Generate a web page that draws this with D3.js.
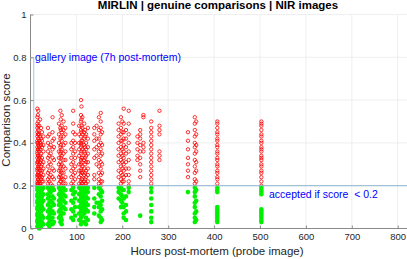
<!DOCTYPE html>
<html>
<head>
<meta charset="utf-8">
<script src="https://cdn.jsdelivr.net/npm/d3@7"></script>
<style>
html,body{margin:0;padding:0;background:#fff;}
svg{display:block;font-family:"Liberation Sans",Arial,Helvetica,sans-serif;}
</style>
</head>
<body>
<svg id="chart" width="407" height="259"></svg>
<script>
// ---- data ----
const title = "MIRLIN | genuine comparisons | NIR images";
const xLabel = "Hours post-mortem (probe image)";
const yLabel = "Comparison score";
const xTicks = [0,100,200,300,400,500,600,700,800];
const yTicks = [0,0.2,0.4,0.6,0.8,1];
const threshold = 0.2;
const galleryHour = 7;
const galleryLine = [0.1, 0.8];
const galleryText = "gallery image (7h post-mortem)";
const thresholdText = "accepted if score  < 0.2";

const hours = [15,16,17,19,21,23,25,28, 38,41,44,48,51, 62,65,66,68,72,76, 89,93,97,
  106,110,111,113,117,119,121,125, 139,144,149,153,156, 192,197,200,203,208,214,
  233,239,246, 263, 281, 343,358,361, 407, 503];

const scores = [
  [0.56,0.52,0.49,0.47,0.45,0.43,0.41,0.40,0.38,0.36,0.35,0.33,0.31,0.30,0.28,0.27,0.25,0.24,0.22,0.21,0.20,0.19,0.18,0.16,0.15,0.13,0.12,0.10,0.09,0.07,0.06,0.04,0.03,0.01],
  [0.53,0.48,0.44,0.40,0.37,0.34,0.31,0.28,0.25,0.23,0.21,0.18,0.15,0.12,0.09,0.06,0.03],
  [0.55,0.50,0.46,0.44,0.42,0.39,0.37,0.34,0.32,0.29,0.26,0.23,0.21,0.19,0.17,0.14,0.11,0.08,0.05,0.02],
  [0.48,0.44,0.41,0.38,0.36,0.33,0.30,0.28,0.25,0.22,0.20,0.19,0.16,0.13,0.10,0.07,0.04,0.02,0.00],
  [0.51,0.43,0.40,0.37,0.34,0.31,0.27,0.24,0.21,0.18,0.15,0.12,0.09,0.06,0.03],
  [0.47,0.42,0.39,0.35,0.32,0.29,0.26,0.23,0.20,0.19,0.17,0.14,0.11,0.08,0.05,0.01],
  [0.45,0.41,0.38,0.33,0.30,0.27,0.24,0.22,0.18,0.15,0.12,0.10,0.06,0.03],
  [0.43,0.39,0.36,0.31,0.28,0.25,0.22,0.19,0.16,0.13,0.09,0.05,0.02],
  [0.47,0.43,0.40,0.36,0.33,0.29,0.26,0.23,0.21,0.19,0.16,0.14,0.11,0.08,0.05,0.02],
  [0.44,0.38,0.34,0.31,0.27,0.24,0.22,0.18,0.15,0.12,0.09,0.06,0.03,0.01],
  [0.39,0.35,0.30,0.25,0.21,0.19,0.17,0.13,0.10,0.07,0.04],
  [0.52,0.45,0.41,0.37,0.33,0.28,0.24,0.20,0.19,0.15,0.12,0.08,0.05,0.02],
  [0.42,0.38,0.32,0.27,0.23,0.18,0.14,0.11,0.07,0.03],
  [0.49,0.44,0.40,0.36,0.33,0.30,0.27,0.24,0.21,0.19,0.16,0.13,0.11,0.08,0.05],
  [0.55,0.47,0.42,0.38,0.35,0.31,0.28,0.25,0.22,0.18,0.15,0.12,0.09,0.06,0.03],
  [0.51,0.46,0.43,0.39,0.36,0.33,0.29,0.27,0.24,0.22,0.17,0.14,0.11,0.08,0.05],
  [0.53,0.48,0.45,0.41,0.37,0.34,0.30,0.26,0.23,0.20,0.19,0.17,0.14,0.10,0.07,0.04,0.02],
  [0.50,0.46,0.43,0.39,0.35,0.32,0.29,0.26,0.23,0.21,0.19,0.16,0.13,0.10,0.07],
  [0.47,0.44,0.40,0.36,0.32,0.28,0.24,0.21,0.18,0.15,0.12,0.09],
  [0.40,0.37,0.33,0.30,0.27,0.24,0.21,0.18,0.13,0.09,0.05],
  [0.55,0.49,0.45,0.41,0.38,0.35,0.31,0.28,0.25,0.22,0.20,0.19,0.16,0.12,0.08,0.04],
  [0.44,0.40,0.36,0.33,0.29,0.26,0.23,0.17,0.14,0.10,0.06],
  [0.48,0.44,0.40,0.37,0.34,0.30,0.27,0.24,0.21,0.19,0.16,0.13,0.10,0.07,0.04],
  [0.60,0.53,0.50,0.46,0.43,0.40,0.38,0.35,0.32,0.30,0.27,0.25,0.22,0.20,0.19,0.17,0.14,0.11,0.08,0.05,0.02],
  [0.57,0.51,0.48,0.45,0.41,0.39,0.36,0.33,0.31,0.28,0.26,0.23,0.21,0.18,0.15,0.12,0.09,0.06,0.03],
  [0.52,0.47,0.44,0.41,0.37,0.33,0.29,0.26,0.23,0.21,0.18,0.15,0.12,0.09,0.06],
  [0.49,0.45,0.42,0.39,0.36,0.32,0.28,0.25,0.22,0.19,0.16,0.13,0.10,0.07,0.03],
  [0.46,0.43,0.38,0.35,0.33,0.30,0.26,0.23,0.21,0.17,0.14,0.11,0.08],
  [0.44,0.40,0.37,0.34,0.31,0.27,0.24,0.21,0.18,0.15,0.12,0.09,0.05,0.02],
  [0.47,0.42,0.38,0.35,0.31,0.28,0.25,0.22,0.19,0.17,0.14,0.11,0.08,0.04],
  [0.47,0.44,0.41,0.37,0.33,0.25,0.23,0.19,0.14,0.10,0.07],
  [0.48,0.42,0.38,0.34,0.30,0.12],
  [0.52,0.46,0.42,0.39,0.36,0.32,0.29,0.26,0.23,0.21,0.19,0.16,0.12,0.10,0.06],
  [0.54,0.50,0.47,0.44,0.40,0.37,0.34,0.31,0.28,0.25,0.22,0.20,0.18,0.15,0.11,0.08,0.05,0.03],
  [0.45,0.39,0.35,0.30,0.26,0.22,0.17,0.13,0.09,0.04],
  [0.49,0.46,0.43,0.40,0.37,0.34,0.31,0.27,0.24,0.19,0.17,0.14],
  [0.52,0.47,0.44,0.41,0.38,0.35,0.32,0.29,0.26,0.23,0.21,0.19,0.16,0.13,0.10],
  [0.50,0.45,0.41,0.37,0.34,0.31,0.28,0.25,0.22,0.18,0.15,0.12],
  [0.56,0.49,0.45,0.42,0.39,0.36,0.33,0.30,0.27,0.24,0.22,0.18,0.14,0.10,0.07,0.05],
  [0.46,0.42,0.38,0.35,0.31,0.28,0.25,0.15,0.11,0.08,0.04],
  [0.55,0.49,0.44,0.40,0.36,0.32,0.28,0.25,0.22,0.20,0.19,0.17],
  [0.43,0.40,0.37,0.34,0.32],
  [0.46,0.44,0.42,0.39,0.36,0.33,0.30,0.27,0.24,0.06],
  [0.53,0.52,0.40,0.38,0.36],
  [0.50,0.47,0.45,0.43,0.41,0.39,0.37,0.35,0.33,0.31,0.29,0.27,0.25,0.23,0.21,0.19,0.17,0.14,0.11,0.08,0.05,0.03],
  [0.55,0.48,0.46,0.44,0.36,0.34,0.32],
  [0.45,0.41,0.37,0.33,0.30,0.27,0.24,0.17],
  [0.52,0.49,0.46,0.43,0.40,0.38,0.35,0.32,0.29,0.26,0.23,0.21,0.19,0.17,0.15,0.12,0.10,0.07,0.05,0.03],
  [0.50,0.44,0.39,0.36,0.31,0.27,0.22,0.18,0.13,0.08,0.04],
  [0.50,0.49,0.47,0.45,0.44,0.42,0.41,0.39,0.38,0.36,0.35,0.33,0.32,0.30,0.29,0.27,0.26,0.24,0.23,0.21,0.19,0.18,0.17,0.10,0.09,0.08,0.07,0.06,0.05,0.04,0.03],
  [0.50,0.49,0.48,0.46,0.44,0.43,0.41,0.40,0.38,0.37,0.36,0.34,0.33,0.32,0.30,0.29,0.27,0.26,0.24,0.22,0.20,0.19,0.18,0.17,0.16,0.09,0.08,0.07,0.06,0.05,0.04,0.03]
];

// ---- chart ----
const W = 407, H = 259;
const svg = d3.select("#chart");
const x = d3.scaleLinear().domain([0, 800]).range([30.5, 397.7]);
const y = d3.scaleLinear().domain([0, 1]).range([228.5, 14.5]);
const xRight = W;

const points = [];
hours.forEach((h, i) => scores[i].forEach(s => points.push({h, s})));

// grid
const grid = svg.append("g");
grid.selectAll("line.gx").data(xTicks.slice(1)).join("line")
  .attr("x1", d => x(d)).attr("x2", d => x(d))
  .attr("y1", y(0)).attr("y2", y(1))
  .attr("stroke", "#ebebeb").attr("stroke-width", 0.8);
grid.selectAll("line.gy").data(yTicks.slice(1)).join("line")
  .attr("x1", x(0)).attr("x2", xRight)
  .attr("y1", d => y(d)).attr("y2", d => y(d))
  .attr("stroke", "#ebebeb").attr("stroke-width", 0.8);

// points: red (rejected) open circles, then green (accepted) filled
const red = points.filter(p => p.s >= threshold);
const green = points.filter(p => p.s < threshold);
svg.append("g").selectAll("circle").data(red).join("circle")
  .attr("cx", d => x(d.h)).attr("cy", d => y(d.s)).attr("r", 1.7)
  .attr("fill", "none").attr("stroke", "#ff0000").attr("stroke-width", 0.8);
svg.append("g").selectAll("circle").data(green).join("circle")
  .attr("cx", d => x(d.h)).attr("cy", d => y(d.s)).attr("r", 2.3)
  .attr("fill", "#00f000").attr("stroke", "none");

// reference lines
svg.append("line")
  .attr("x1", x(0)).attr("x2", xRight)
  .attr("y1", y(threshold)).attr("y2", y(threshold))
  .attr("stroke", "#8fb6cf").attr("stroke-width", 1);
svg.append("line")
  .attr("x1", x(galleryHour)).attr("x2", x(galleryHour))
  .attr("y1", y(galleryLine[0])).attr("y2", y(galleryLine[1]))
  .attr("stroke", "#a6d2ef").attr("stroke-width", 1.2);

// axes
const axisColor = "#8a8a8a";
const xAxis = svg.append("g").attr("transform", `translate(0,${y(0)})`)
  .call(d3.axisBottom(x).tickValues(xTicks).tickSize(-3).tickPadding(5).tickFormat(d3.format("d")));
const yAxis = svg.append("g").attr("transform", `translate(${x(0)},0)`)
  .call(d3.axisLeft(y).tickValues(yTicks).tickSize(-3).tickPadding(4).tickFormat(d => d === 0 || d === 1 ? d3.format("d")(d) : d3.format(".1f")(d)));
[xAxis, yAxis].forEach(g => {
  g.select(".domain").attr("stroke", axisColor).attr("stroke-width", 1);
  g.selectAll(".tick line").attr("stroke", axisColor);
  g.selectAll(".tick text").attr("fill", "#262626").attr("font-size", "9.5px")
    .attr("font-family", "Liberation Sans, Arial, sans-serif");
});
xAxis.select(".domain").attr("d", `M${x(0)},0H${xRight}`);
yAxis.select(".domain").attr("d", `M0,${y(0)}V${y(1)}`);

// texts
svg.append("text").attr("x", 218).attr("y", 8.5).attr("text-anchor", "middle")
  .attr("font-size", "11.5px").attr("font-weight", "bold").attr("fill", "#000").text(title);
svg.append("text").attr("x", 217).attr("y", 255).attr("text-anchor", "middle")
  .attr("font-size", "11.5px").attr("fill", "#262626").text(xLabel);
svg.append("text").attr("transform", "translate(10,120) rotate(-90)").attr("text-anchor", "middle")
  .attr("font-size", "11.5px").attr("fill", "#262626").text(yLabel);
svg.append("text").attr("x", 35).attr("y", 61).attr("font-size", "10.5px")
  .attr("fill", "#0000ff").text(galleryText);
svg.append("text").attr("x", 269).attr("y", 197.5).attr("font-size", "10.5px")
  .attr("fill", "#0000ff").style("white-space", "pre").text(thresholdText);
</script>
</body>
</html>
